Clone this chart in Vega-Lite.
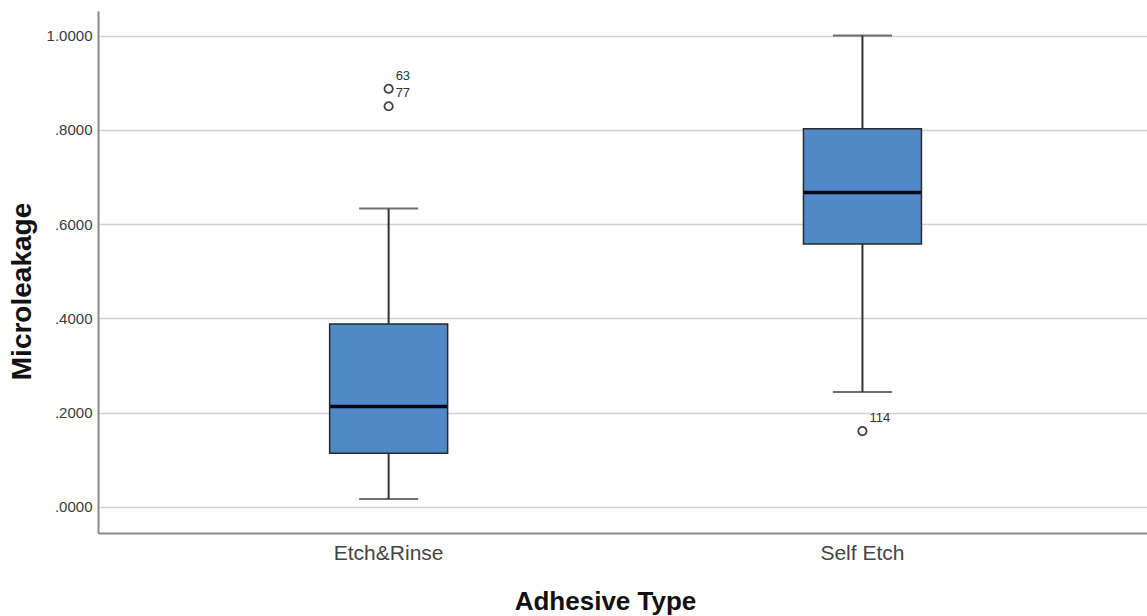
{
  "$schema": "https://vega.github.io/schema/vega-lite/v6.json",
  "autosize": "none",
  "width": 1049,
  "height": 522,
  "padding": {"left": 98, "top": 11, "right": 0, "bottom": 83},
  "background": "white",
  "config": {
    "view": {"stroke": null},
    "font": "Liberation Sans"
  },
  "datasets": {
    "boxes": [
      {"type": "Etch&Rinse", "lower": 0.017, "q1": 0.114, "median": 0.213, "q3": 0.388, "upper": 0.633},
      {"type": "Self Etch", "lower": 0.244, "q1": 0.558, "median": 0.667, "q3": 0.8025, "upper": 1.0}
    ],
    "outliers": [
      {"type": "Etch&Rinse", "value": 0.887, "case": "63"},
      {"type": "Etch&Rinse", "value": 0.850, "case": "77"},
      {"type": "Self Etch", "value": 0.161, "case": "114"}
    ]
  },
  "encoding": {
    "x": {
      "field": "type",
      "type": "nominal",
      "sort": ["Etch&Rinse", "Self Etch"],
      "scale": {"type": "band", "domain": ["Etch&Rinse", "Self Etch"], "paddingInner": 0, "paddingOuter": 0.107, "align": 0.53},
      "axis": {
        "title": "Adhesive Type",
        "titleFontSize": 26,
        "titleFontWeight": "bold",
        "titleColor": "#111111",
        "titleX": 507,
        "titleY": 76,
        "titleBaseline": "alphabetic",
        "titleAlign": "center",
        "labelAngle": 0,
        "labelFontSize": 21,
        "labelColor": "#444444",
        "labelPadding": 9,
        "ticks": false,
        "domainColor": "#8a8a8a",
        "domainWidth": 2,
        "grid": false
      }
    }
  },
  "layer": [
    {
      "data": {"name": "boxes"},
      "mark": {"type": "rule", "color": "#333333", "strokeWidth": 2},
      "encoding": {
        "y": {
          "field": "lower",
          "type": "quantitative",
          "scale": {"domain": [-0.0552, 1.052], "nice": false, "zero": false},
          "axis": {
            "title": "Microleakage",
            "titleFontSize": 28,
            "titleFontWeight": "bold",
            "titleColor": "#111111",
            "titleAngle": -90,
            "titleX": -76,
            "titleY": 280,
            "titleAlign": "center",
            "titleBaseline": "middle",
            "values": [0, 0.2, 0.4, 0.6, 0.8, 1.0],
            "labelExpr": "datum.value >= 1 ? format(datum.value, '.4f') : substring(format(datum.value, '.4f'), 1)",
            "labelFontSize": 15,
            "labelColor": "#3a3a3a",
            "labelPadding": 6,
            "ticks": false,
            "domainColor": "#8a8a8a",
            "domainWidth": 2,
            "grid": true,
            "gridColor": "#d2d2d2",
            "gridWidth": 1.5
          }
        },
        "y2": {"field": "upper"}
      }
    },
    {
      "data": {"name": "boxes"},
      "mark": {"type": "tick", "color": "#333333", "size": 59, "thickness": 2},
      "encoding": {"y": {"field": "lower", "type": "quantitative"}}
    },
    {
      "data": {"name": "boxes"},
      "mark": {"type": "tick", "color": "#333333", "size": 59, "thickness": 2},
      "encoding": {"y": {"field": "upper", "type": "quantitative"}}
    },
    {
      "data": {"name": "boxes"},
      "mark": {"type": "bar", "size": 118, "fill": "#5088c8", "stroke": "#2a2a2a", "strokeWidth": 1.5},
      "encoding": {
        "y": {"field": "q1", "type": "quantitative"},
        "y2": {"field": "q3"}
      }
    },
    {
      "data": {"name": "boxes"},
      "mark": {"type": "tick", "color": "#020818", "size": 117, "thickness": 3.5, "opacity": 1},
      "encoding": {"y": {"field": "median", "type": "quantitative"}}
    },
    {
      "data": {"name": "outliers"},
      "mark": {"type": "point", "shape": "circle", "filled": false, "size": 70, "stroke": "#444444", "strokeWidth": 1.8, "opacity": 1},
      "encoding": {"y": {"field": "value", "type": "quantitative"}}
    },
    {
      "data": {"name": "outliers"},
      "mark": {"type": "text", "align": "left", "baseline": "middle", "dx": 7, "dy": -13, "fontSize": 13, "color": "#333333"},
      "encoding": {
        "y": {"field": "value", "type": "quantitative"},
        "text": {"field": "case"}
      }
    }
  ]
}
